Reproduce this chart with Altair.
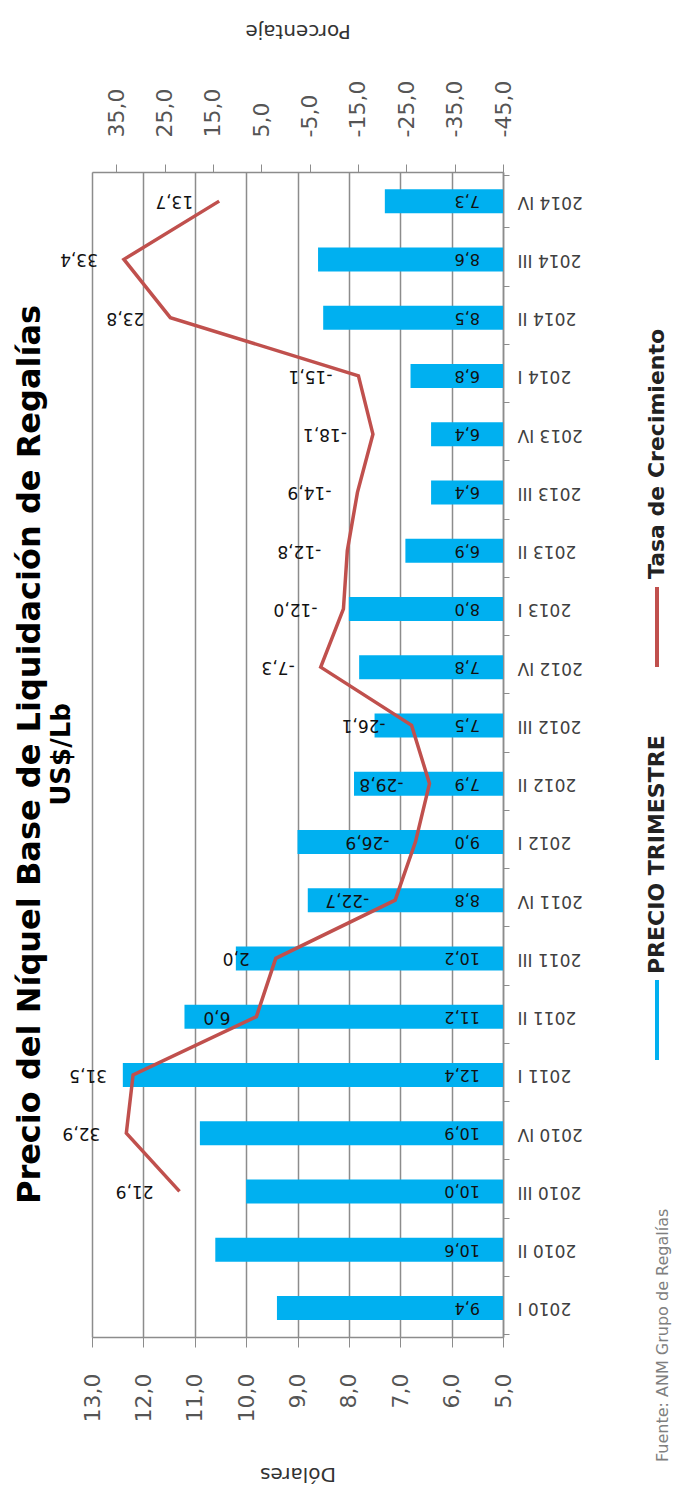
import altair as alt
import pandas as pd

categorias = ["2010 I", "2010 II", "2010 III", "2010 IV",
              "2011 I", "2011 II", "2011 III", "2011 IV",
              "2012 I", "2012 II", "2012 III", "2012 IV",
              "2013 I", "2013 II", "2013 III", "2013 IV",
              "2014 I", "2014 II", "2014 III", "2014 IV"]
precio = [9.4, 10.6, 10.0, 10.9, 12.4, 11.2, 10.2, 8.8, 9.0, 7.9,
          7.5, 7.8, 8.0, 6.9, 6.4, 6.4, 6.8, 8.5, 8.6, 7.3]
tasa = [None, None, 21.9, 32.9, 31.5, 6.0, 2.0, -22.7, -26.9, -29.8,
        -26.1, -7.3, -12.0, -12.8, -14.9, -18.1, -15.1, 23.8, 33.4, 13.7]
dolares_ticks = [5, 6, 7, 8, 9, 10, 11, 12, 13]
porcentaje_ticks = [-45, -35, -25, -15, -5, 5, 15, 25, 35]
leyenda = ["PRECIO TRIMESTRE", "Tasa de Crecimiento"]
fuente = "Fuente: ANM Grupo de Regalías"

df = pd.DataFrame({"cat": categorias, "precio": precio, "tasa": tasa})
orden_y = categorias[::-1]

FONT = "DejaVu Sans"
GRAY = "#8c8c8c"
LBL = "#555555"
fmt = "replace(replace(format(datum.value, '.1f'), '.', ','), '\u2212', '-')"

y_enc = alt.Y(
    "cat:N", sort=orden_y, title=None,
    axis=alt.Axis(orient="right", labelAngle=180, labelAlign="right",
                  labelBaseline="middle", labelPadding=8, labelFontSize=17,
                  labelFont=FONT, labelColor="#404040", ticks=True,
                  tickBand="extent", tickSize=6, tickColor=GRAY,
                  domainColor=GRAY, domainWidth=1.5, grid=False),
)

base = alt.Chart(df)

x_dol = alt.X(
    "precio:Q",
    scale=alt.Scale(domain=[5, 13], reverse=True, zero=False, nice=False),
    axis=alt.Axis(orient="bottom", title="Dólares", values=dolares_ticks,
                  labelExpr=fmt, labelAngle=270, labelAlign="right",
                  labelBaseline="middle", labelPadding=26, labelFontSize=22,
                  labelFont=FONT, labelColor=LBL, labelFlush=False,
                  labelOverlap=False, tickSize=10, tickColor=GRAY,
                  domainColor=GRAY, domainWidth=1.5, grid=True,
                  gridColor=GRAY, gridWidth=1.5, titleAngle=180, titleY=136,
                  titleBaseline="middle", titleFontSize=20, titleFont=FONT,
                  titleFontWeight="normal", titleColor="#333333"),
)

bars = base.mark_bar(size=24, color="#00B0F0").encode(
    x=x_dol, x2=alt.datum(5), y=y_enc
)

bar_labels = base.transform_calculate(
    lbl="replace(format(datum.precio, '.1f'), '.', ',')"
).mark_text(angle=180, align="left", baseline="middle", dx=23,
            fontSize=16, font=FONT, color="#111111").encode(
    x=alt.datum(5), y=y_enc, text="lbl:N"
)

x_pct = alt.X(
    "tasa:Q",
    scale=alt.Scale(domain=[-45, 40], reverse=True, zero=False, nice=False),
    axis=alt.Axis(orient="top", title="Porcentaje", values=porcentaje_ticks,
                  labelExpr=fmt, labelAngle=270, labelAlign="left",
                  labelBaseline="middle", labelPadding=27, labelFontSize=22,
                  labelFont=FONT, labelColor=LBL, labelFlush=False,
                  labelOverlap=False, tickSize=8, tickColor=GRAY,
                  domainColor=GRAY, domainWidth=1.5, grid=False,
                  titleAngle=180, titleY=-142, titleBaseline="middle",
                  titleFontSize=20, titleFont=FONT, titleFontWeight="normal",
                  titleColor="#333333"),
)

linea_base = base.transform_window(idx="row_number()").transform_filter(
    "isValid(datum.tasa)"
)

line = linea_base.mark_line(color="#C0504D", strokeWidth=3.5).encode(
    x=x_pct, y=y_enc, order="idx:Q"
)

line_labels = linea_base.transform_calculate(
    lbl="replace(replace(format(datum.tasa, '.1f'), '.', ','), '\u2212', '-')"
).mark_text(angle=180, align="left", baseline="middle", dx=26,
            fontSize=17, font=FONT, color="#111111").encode(
    x="tasa:Q", y=y_enc, text="lbl:N"
)

leg_df = pd.DataFrame({"t": leyenda})
src_df = pd.DataFrame({"t": [fuente]})

leg_blue = alt.Chart(leg_df).transform_filter(
    alt.datum.t == leyenda[0]
).mark_rule(color="#00B0F0", strokeWidth=4).encode(
    x=alt.value(565), y=alt.value(808), y2=alt.value(888)
)
leg_blue_txt = alt.Chart(leg_df).transform_filter(
    alt.datum.t == leyenda[0]
).mark_text(angle=270, align="left", baseline="middle", fontSize=22,
            font=FONT, fontWeight="bold", color="#222222").encode(
    x=alt.value(565), y=alt.value(802), text="t:N"
)
leg_red = alt.Chart(leg_df).transform_filter(
    alt.datum.t == leyenda[1]
).mark_rule(color="#C0504D", strokeWidth=4).encode(
    x=alt.value(565), y=alt.value(415), y2=alt.value(495)
)
leg_red_txt = alt.Chart(leg_df).transform_filter(
    alt.datum.t == leyenda[1]
).mark_text(angle=270, align="left", baseline="middle", fontSize=22,
            font=FONT, fontWeight="bold", color="#222222").encode(
    x=alt.value(565), y=alt.value(407), text="t:N"
)
src_txt = alt.Chart(src_df).mark_text(
    angle=270, align="left", baseline="middle", fontSize=16, font=FONT,
    color="#7f7f7f"
).encode(x=alt.value(571), y=alt.value(1290), text="t:N")

chart = alt.layer(
    alt.layer(bars, bar_labels),
    alt.layer(line, line_labels),
    leg_blue, leg_blue_txt, leg_red, leg_red_txt, src_txt,
).resolve_scale(x="independent").properties(
    width=411, height=1165,
    autosize=alt.AutoSizeParams(type="none"),
    padding={"left": 84, "top": 164, "right": 175, "bottom": 148},
    title=alt.TitleParams(
        text="Precio del Níquel Base de Liquidación de Regalías",
        subtitle="US$/Lb", orient="left", anchor="middle", font=FONT,
        fontSize=32, fontWeight="bold", color="#000000",
        subtitleFont=FONT, subtitleFontSize=26, subtitleFontWeight="bold",
        subtitleColor="#000000", subtitlePadding=2, offset=-16,
    ),
).configure_view(stroke=None).configure(background="white")

chart.save("out.html", embed_options={"renderer": "svg", "actions": False})
